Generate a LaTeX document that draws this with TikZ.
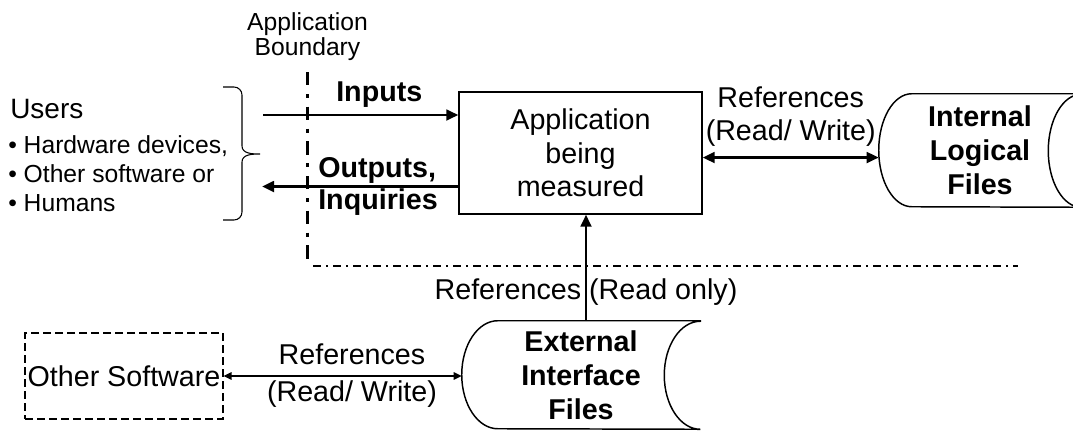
\documentclass[tikz,border=0pt]{standalone}
\usepackage{fontspec}
\setmainfont{Liberation Sans}
\usetikzlibrary{arrows.meta,calc}

% data store outline: #1 node, #2 x radius of the end arcs, #3 half height
\newcommand{\filestore}[3]{%
 \draw[line width=1.1pt] (#1.north east) -- ($(#1.north west)+(#2,0)$)
   arc[start angle=90, end angle=270, x radius=#2, y radius=#3]
   -- (#1.south east)
   arc[start angle=270, end angle=90, x radius=#2, y radius=#3] -- cycle;}

\tikzset{
 big/.style={font=\fontsize{21.5}{25}\selectfont, inner sep=0pt, align=center},
 bigbold/.style={font=\bfseries\fontsize{21.5}{25.5}\selectfont, inner sep=0pt, align=center},
 small/.style={font=\fontsize{18.5}{18.4}\selectfont, inner sep=0pt, align=center},
 flow/.style={line width=2pt, -{Triangle[length=9pt,width=8pt]}},
 dflow/.style={line width=2pt, {Triangle[length=9pt,width=8pt]}-{Triangle[length=9pt,width=8pt]}},
 thinflow/.style={line width=1.2pt, {Triangle[length=6pt,width=5.5pt]}-{Triangle[length=6pt,width=5.5pt]}}
}

\begin{document}
\begin{tikzpicture}[x=0.75pt, y=0.75pt]
 \useasboundingbox (0,0) rectangle (1073,430);

 % application boundary
 \node[small] (bound) at (307.5,393.6) {Application\\Boundary};
 \draw[line width=2pt, dash pattern=on 10pt off 6.5pt on 3pt off 6.5pt] (307.5,358) -- (307.5,168);
 \draw[line width=1.5pt, dash pattern=on 6pt off 3.75pt on 1.5pt off 3.75pt] (313,164.5) -- (1018,164.5);

 % users
 \node[big, anchor=base west, font=\fontsize{21}{25}\selectfont] (users) at (10,312) {Users};
 \node[small, align=left, anchor=north west, font=\fontsize{18.5}{22}\selectfont] (kinds) at (8,295)
   {• Hardware devices,\\• Other software or\\• Humans};
 \draw[line width=0.8pt] (223,343) -- (234,343) to[out=0,in=90] (242,335) -- (242,284)
   to[out=-90,in=180] (260,276) to[out=180,in=90] (242,268) -- (242,218)
   to[out=-90,in=0] (234,210) -- (223,210);

 % the application and its files
 \node[big, draw, line width=1pt, minimum width=182.25pt, minimum height=91.5pt] (app) at (580.5,277)
   {Application\\being\\measured};
 \node[bigbold, minimum width=151.5pt, minimum height=84.75pt] (ilf) at (980,279.5) {Internal\\Logical\\Files};
 \filestore{ilf}{33}{56.5}
 \node[bigbold, minimum width=178.5pt, minimum height=81pt] (eif) at (581,55) {External\\Interface\\Files};
 \filestore{eif}{36}{54}
 \node[big, draw, line width=0.8pt, dash pattern=on 6pt off 3pt, minimum width=148.5pt, minimum height=64.5pt]
   (other) at (124,54) {Other Software};

 % inputs and outputs
 \coordinate (userin) at (263,315);
 \coordinate (userout) at (262,243.5);
 \draw[flow] (userin) -- (userin -| app.west);
 \draw[flow] (userout -| app.west) -- (userout);
 \node[bigbold, anchor=base west] (inputs) at (336,328.5) {Inputs};
 \node[bigbold, align=left, anchor=west, font=\bfseries\fontsize{21.5}{24}\selectfont] (outputs)
   at (318,243.5) {Outputs,\\Inquiries};

 % references
 \coordinate (ilfin) at ([yshift=-3.4pt]app.east);
 \draw[dflow] (ilfin) -- (ilfin -| ilf.west)
   node[big, midway, above=7pt] (ilfref) {References\\(Read/ Write)};
 \coordinate (eiftop) at ([xshift=3.75pt]eif.north);
 \draw[flow] (eiftop) -- (eiftop |- app.south)
   node[big, pos=0.27] (readonly) {References (Read only)};
 \draw[thinflow] (other.east) -- (other.east -| eif.west)
   node[big, midway, above=7.5pt, xshift=7pt] (otherref) {References}
   node[big, midway, below=3pt, xshift=7pt] (otherrw) {(Read/ Write)};
\end{tikzpicture}
\end{document}
